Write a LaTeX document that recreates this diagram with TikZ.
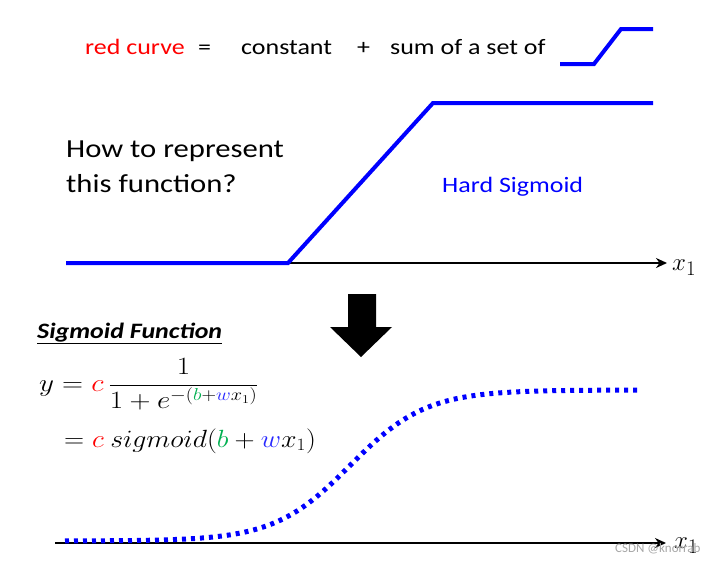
\documentclass[tikz,border=0pt]{standalone}
\usepackage{fontspec}
\setmainfont{Carlito}
\usetikzlibrary{arrows.meta}
\definecolor{pblue}{RGB}{0,0,255}
\definecolor{pred}{RGB}{255,0,0}
\definecolor{pgreen}{RGB}{0,176,80}
\definecolor{wblue}{RGB}{40,40,255}
\newcommand{\wide}[1]{\scalebox{1.18}[1]{#1}}
\tikzset{
  txt/.style={anchor=base west, inner sep=0pt, font=\fontsize{22}{26}\selectfont},
  bigtxt/.style={anchor=base west, inner sep=0pt, font=\fontsize{26}{30}\selectfont},
  hard/.style={pblue, line width=4pt},
  axis/.style={black, line width=2.5pt, -{Stealth[length=11pt,width=10pt]}},
  soft/.style={pblue, line width=5pt, dash pattern=on 4pt off 5pt},
  xlab/.style={anchor=west, inner sep=0pt, font=\fontsize{30}{34}\selectfont},
  mathtxt/.style={anchor=west, inner sep=0pt, font=\fontsize{26}{30}\selectfont},
}
\begin{document}
\begin{tikzpicture}[x=1pt,y=-1pt]
\useasboundingbox (0,0) rectangle (717,562);
% top line
\node[txt, text=pred] (rc) at (85,54) {\wide{red curve}};
\node[txt] (eq) at (198,54) {\wide{=}};
\node[txt] (co) at (241,54) {\wide{constant}};
\node[txt] (pl) at (357,54) {\wide{+}};
\node[txt] (ss) at (390,54) {\wide{sum of a set of}};
\coordinate (i0) at (560,64);
\coordinate (i1) at (594,64);
\coordinate (i2) at (621,29);
\coordinate (i3) at (653,29);
\draw[hard] (i0) -- (i1) -- (i2) -- (i3);
% hard sigmoid
\node[bigtxt] (q1) at (66,157) {\wide{How to represent}};
\node[bigtxt] (q2) at (66,192) {\wide{this function?}};
\node[txt, text=pblue] (hs) at (442,192) {\wide{Hard Sigmoid}};
\coordinate (a0) at (66,263);
\coordinate (a1) at (667,263);
\draw[axis] (a0) -- (a1);
\node[xlab] (x1a) at (672,268) {$x_1$};
\coordinate (h0) at (66,263);
\coordinate (h1) at (288,263);
\coordinate (h2) at (433,103);
\coordinate (h3) at (653,103);
\draw[hard] (h0) -- (h1) -- (h2) -- (h3);
% down arrow
\fill[black] (348,294) -- (376,294) -- (376,327) -- (392,327) -- (361,357) -- (330,327) -- (348,327) -- cycle;
% sigmoid function
\node[anchor=base west, inner sep=0pt, font=\fontsize{22}{26}\selectfont\bfseries\itshape] (sf) at (37,338) {\wide{\underline{Sigmoid Function}}};
\node[mathtxt] (f1) at (39,384)
  {\scalebox{1.17}[1]{$\displaystyle y = {\color{pred}c}\,\frac{1}{1+e^{-({\color{pgreen}b}+{\color{wblue}w}x_1)}}$}};
\node[mathtxt] (f2) at (64,441)
  {\scalebox{1.12}[1]{$= {\color{pred}c}\ sigmoid({\color{pgreen}b}+{\color{wblue}w}x_1)$}};
% bottom axis
\coordinate (b0) at (55,543);
\coordinate (b1) at (666,543);
\draw[axis] (b0) -- (b1);
\node[xlab] (x1b) at (674,546) {$x_1$};
\draw[soft] plot[domain=65:640, samples=120] (\x, {541-151/(1+exp(-(\x-350)/38))});
\node[anchor=west, inner sep=0pt, text=gray!70, font=\fontsize{13}{15}\selectfont] (wm) at (615,549) {CSDN @knorrab};
\end{tikzpicture}
\end{document}
